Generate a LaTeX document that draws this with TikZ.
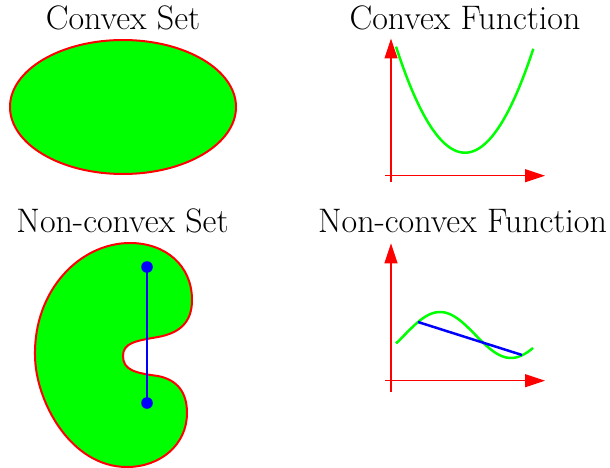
\documentclass[tikz,border=0pt]{standalone}
\usepackage{fontspec}
\usetikzlibrary{arrows.meta}
\begin{document}
\begin{tikzpicture}[x=1pt,y=-1pt,
  title/.style={anchor=base,inner sep=0pt,font=\fontsize{34}{40}\selectfont},
  setshape/.style={draw=red,fill=green,line width=2pt},
  axis/.style={draw=red,line width=1.2pt,-{Triangle[length=20pt,width=13pt]}},
  curve/.style={draw=green,line width=2.5pt},
  chord/.style={draw=blue,line width=2.5pt},
  dot/.style={fill=blue}]
\useasboundingbox (0,0) rectangle (610,468);
% titles
\node[title] (t1) at (123,29.5) {Convex Set};
\node[title] (t2) at (465,29.5) {Convex Function};
\node[title] (t3) at (122.5,232) {Non-convex Set};
\node[title] (t4) at (462.5,232) {Non-convex Function};
% convex set
\path[setshape] (123,107) ellipse [x radius=113, y radius=67];
% convex function
\coordinate (ay0) at (391,182); \coordinate (ay1) at (391,38.5);
\coordinate (ax0) at (385,175.7); \coordinate (ax1) at (545,175.7);
\draw[axis] (ay0) -- (ay1);
\draw[axis] (ax0) -- (ax1);
\draw[curve,domain=396:533.3,samples=60,smooth] plot (\x,{152.7-103*((\x-465)/68)^2});
% non-convex set
\path[setshape] (130,243) .. controls (165,243) and (192,265) .. (192,300)
  .. controls (192,322) and (180,333) .. (158,337)
  .. controls (135,341) and (123,343) .. (123,356)
  .. controls (123,370) and (135,373) .. (158,376)
  .. controls (178,380) and (187,393) .. (187,413)
  .. controls (187,445) and (160,467) .. (127,467)
  .. controls (70,467) and (35,400) .. (35,355)
  .. controls (34,290) and (80,243) .. (130,243) -- cycle;
\coordinate (p1) at (147,267); \coordinate (p2) at (147,403);
\draw[chord] (p1) -- (p2);
\fill[dot] (p1) circle (5.8);
\fill[dot] (p2) circle (5.8);
% non-convex function
\coordinate (by0) at (391,392.3); \coordinate (by1) at (391,243.3);
\coordinate (bx0) at (385,380.7); \coordinate (bx1) at (545,380.7);
\draw[axis] (by0) -- (by1);
\draw[axis] (bx0) -- (bx1);
\draw[curve,domain=396:533,samples=80,smooth] plot (\x,{335-23*cos(2.53521*(\x-440))});
\coordinate (c1) at (418,322); \coordinate (c2) at (522,355);
\draw[chord] (c1) -- (c2);
\end{tikzpicture}
\end{document}
